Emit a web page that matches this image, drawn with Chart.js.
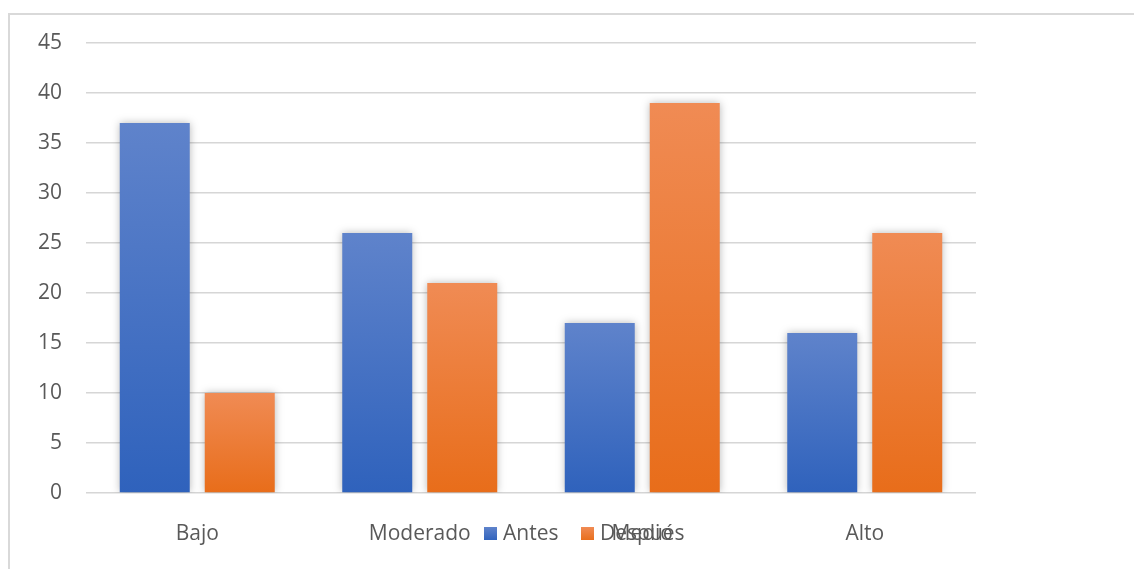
<!DOCTYPE html>
<html>
<head>
<meta charset="utf-8">
<script src="https://cdn.jsdelivr.net/npm/chart.js@4.4.1/dist/chart.umd.min.js"></script>
<style>
  html, body { margin: 0; padding: 0; background: #ffffff; }
  #wrap { position: relative; width: 1134px; height: 569px; }
</style>
</head>
<body>
<div id="wrap"><canvas id="c" width="1134" height="569"></canvas></div>
<script>
const categories = ["Bajo", "Moderado", "Medio", "Alto"];
const antes = [37, 26, 17, 16];
const despues = [10, 21, 39, 26];
const seriesNames = ["Antes", "Después"];
const yTicks = [0, 5, 10, 15, 20, 25, 30, 35, 40, 45];

const FONT = "'Open Sans', 'Noto Sans', sans-serif";
const FSIZE = 21;
const TEXT = "#595959";

function barGradient(top, bottom) {
  return function (ctx) {
    const chart = ctx.chart;
    if (!chart.chartArea || ctx.parsed == null || ctx.parsed.y == null) return bottom;
    const ys = chart.scales.y;
    const y0 = ys.getPixelForValue(ctx.parsed.y);
    const y1 = ys.getPixelForValue(0);
    const g = chart.ctx.createLinearGradient(0, y0, 0, y1);
    g.addColorStop(0, top);
    g.addColorStop(1, bottom);
    return g;
  };
}

const frame = {
  id: 'frame',
  beforeDraw(chart) {
    const c = chart.ctx;
    c.save();
    c.strokeStyle = '#d9d9d9';
    c.lineWidth = 2;
    c.beginPath();
    c.moveTo(9, 569);
    c.lineTo(9, 14);
    c.lineTo(1134, 14);
    c.stroke();
    c.restore();
  }
};

const shadow = {
  id: 'shadow',
  beforeDatasetsDraw(chart) {
    const c = chart.ctx;
    c.save();
    c.shadowColor = 'rgba(0,0,0,0.28)';
    c.shadowBlur = 8;
    c.shadowOffsetX = 0;
    c.shadowOffsetY = 0;
  },
  afterDatasetsDraw(chart) {
    chart.ctx.restore();
  }
};

const legendPlugin = {
  id: 'customLegend',
  afterDraw(chart) {
    const c = chart.ctx;
    c.save();
    c.font = FSIZE + "px " + FONT;
    c.textBaseline = 'middle';
    c.textAlign = 'left';
    const y = 534;
    const items = [
      { x: 484, fillTop: '#5f83cb', fillBottom: '#2f62bc', label: chart.data.datasets[0].label },
      { x: 581, fillTop: '#f08b54', fillBottom: '#e86d1a', label: chart.data.datasets[1].label }
    ];
    items.forEach(it => {
      const g = c.createLinearGradient(0, y - 7, 0, y + 7);
      g.addColorStop(0, it.fillTop);
      g.addColorStop(1, it.fillBottom);
      c.fillStyle = g;
      c.fillRect(it.x, y - 7, 13, 13);
      c.fillStyle = TEXT;
      c.fillText(it.label, it.x + 19, y);
    });
    c.restore();
  }
};

new Chart(document.getElementById('c'), {
  type: 'bar',
  data: {
    labels: categories,
    datasets: [
      {
        label: seriesNames[0],
        data: antes,
        backgroundColor: barGradient('#5f83cb', '#2f62bc'),
        borderWidth: 0,
        categoryPercentage: 0.764,
        barPercentage: 0.8235
      },
      {
        label: seriesNames[1],
        data: despues,
        backgroundColor: barGradient('#f08b54', '#e86d1a'),
        borderWidth: 0,
        categoryPercentage: 0.764,
        barPercentage: 0.8235
      }
    ]
  },
  options: {
    responsive: false,
    animation: false,
    devicePixelRatio: 1,
    layout: { padding: { left: 0, right: 158, top: 43, bottom: 0 } },
    plugins: {
      legend: { display: false },
      tooltip: { enabled: false }
    },
    scales: {
      x: {
        grid: { display: false, drawTicks: false },
        border: { display: false },
        ticks: {
          color: TEXT,
          font: { family: FONT, size: FSIZE },
          padding: 28,
          maxRotation: 0
        },
        afterFit(scale) { scale.height = 76; }
      },
      y: {
        min: 0,
        max: 45,
        afterBuildTicks(scale) { scale.ticks = yTicks.map(v => ({ value: v })); },
        grid: { color: '#d6d6d6', lineWidth: 1.5, drawTicks: false },
        border: { display: false },
        ticks: {
          color: TEXT,
          font: { family: FONT, size: FSIZE },
          padding: 24
        },
        afterFit(scale) { scale.width = 86; }
      }
    }
  },
  plugins: [frame, shadow, legendPlugin]
});
</script>
</body>
</html>
